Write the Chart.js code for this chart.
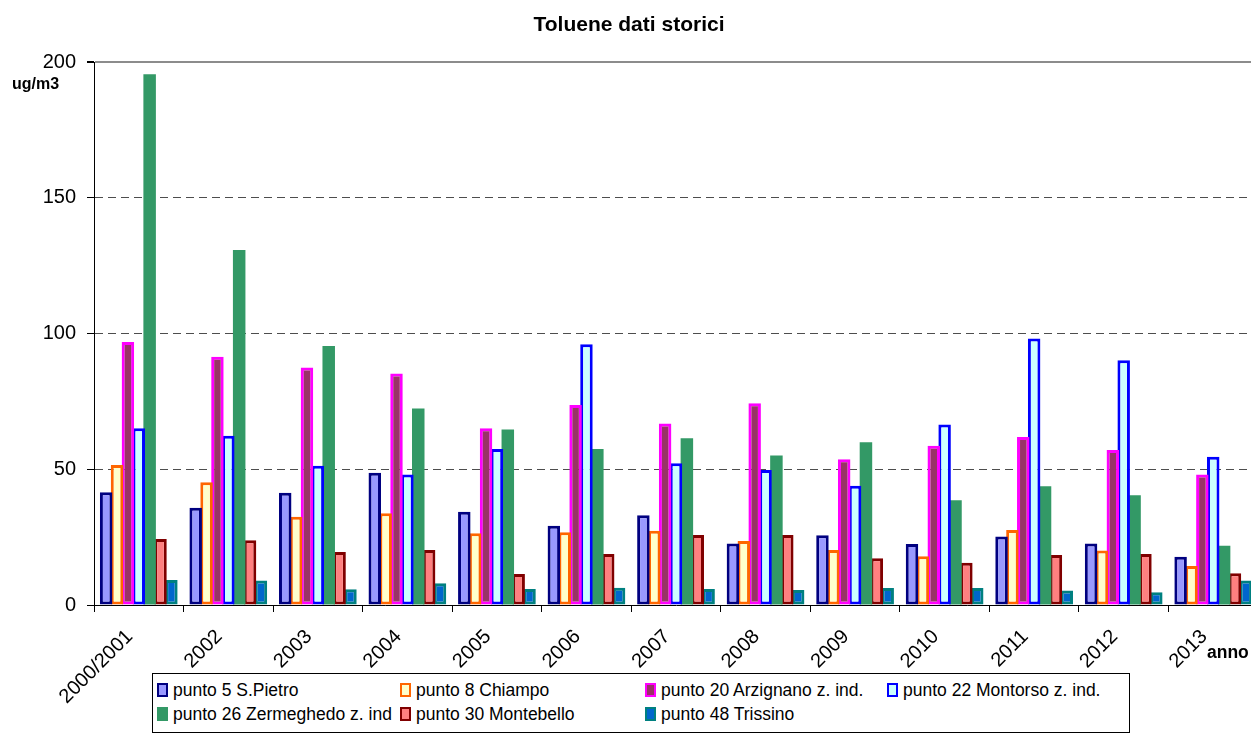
<!DOCTYPE html>
<html>
<head>
<meta charset="utf-8">
<script src="https://cdn.jsdelivr.net/npm/chart.js@4.4.1/dist/chart.umd.min.js"></script>
<style>
    html, body { margin: 0; padding: 0; overflow: hidden; background: #fff; }
    body { width: 1251px; height: 754px; position: relative; font-family: "Liberation Sans", Arial, sans-serif; }
    #wrap { position: absolute; left: 0; top: 0; width: 1258px; height: 754px; }
    .lbl { position: absolute; font-weight: bold; color: #000; }
    #legend { position: absolute; left: 152px; top: 673px; width: 976px; height: 58px; border: 1px solid #000; background: #fff; }
    .item { position: absolute; font-size: 17.5px; line-height: 20px; white-space: nowrap; }
    .item i { position: absolute; left: -16px; top: 3px; width: 7px; height: 10px; box-sizing: content-box; }
</style>
</head>
<body>
<div id="wrap"><canvas id="myChart" width="1258" height="754"></canvas></div>
<div class="lbl" style="left:12px; top:75px; font-size:16px;">ug/m3</div>
<div class="lbl" style="left:1207px; top:642px; font-size:17.5px;">anno</div>
<div id="legend"></div>
<script>
const years = ["2000/2001", "2002", "2003", "2004", "2005", "2006", "2007", "2008", "2009", "2010", "2011", "2012", "2013"];
const yTicks = [0, 50, 100, 150, 200];

const sPietro = [41.5, 35.8, 41.4, 48.7, 34.4, 29.2, 33.1, 22.7, 25.7, 22.5, 25.2, 22.7, 17.8];
const chiampo = [51.6, 45.2, 32.5, 33.8, 26.4, 26.8, 27.4, 23.6, 20.3, 18.0, 27.6, 20.1, 14.4];
const arzignano = [96.9, 91.5, 87.5, 85.3, 65.1, 73.7, 66.9, 74.3, 53.7, 58.7, 61.9, 57.1, 48.1];
const montorso = [65.1, 62.4, 51.3, 48.1, 57.5, 96.1, 52.2, 49.7, 43.9, 66.5, 98.2, 90.2, 54.6];
const zermeghedo = [195.6, 130.8, 95.4, 72.4, 64.7, 57.5, 61.4, 55.1, 60.0, 38.6, 43.8, 40.4, 21.8];
const montebello = [24.3, 23.9, 19.5, 20.3, 11.4, 18.8, 25.8, 25.8, 17.2, 15.6, 18.4, 18.8, 11.7];
const trissino = [9.2, 9.0, 5.8, 8.0, 5.9, 6.4, 5.9, 5.5, 6.3, 6.3, 5.3, 4.7, 9.0];

const series = [
    {label: "punto 5 S.Pietro", data: sPietro, fill: "#9999FF", line: "#000080", w: 3},
    {label: "punto 8 Chiampo", data: chiampo, fill: "#FFFFCC", line: "#FF6600", w: 3},
    {label: "punto 20 Arzignano z. ind.", data: arzignano, fill: "#993366", line: "#FF00FF", w: 3},
    {label: "punto 22 Montorso z. ind.", data: montorso, fill: "#CCFFFF", line: "#0000FF", w: 3},
    {label: "punto 26 Zermeghedo z. ind", data: zermeghedo, fill: "#339966", line: "#339966", w: 0},
    {label: "punto 30 Montebello", data: montebello, fill: "#FF8080", line: "#800000", w: 3},
    {label: "punto 48 Trissino", data: trissino, fill: "#0066CC", line: "#008080", w: 3}
];

const font = "'Liberation Sans', Arial, sans-serif";

let ctx = document.getElementById("myChart").getContext('2d');
let myChart = new Chart(ctx, {
    type: 'bar',
    data: {
        labels: years,
        datasets: series.map(s => ({
            label: s.label,
            data: s.data,
            backgroundColor: s.fill,
            borderColor: s.line,
            borderWidth: s.w,
            borderSkipped: false,
            categoryPercentage: 0.85,
            barPercentage: 1.15   // i bordi di Excel si sovrappongono
        }))
    },
    options: {
        responsive: false,
        animation: false,
        layout: {padding: 0},
        plugins: {
            legend: {display: false},
            tooltip: {enabled: false},
            title: {
                display: true,
                text: "Toluene dati storici",
                color: "#000",
                font: {family: font, size: 21, weight: 'bold'},
                padding: {top: 13, bottom: 24}
            }
        },
        scales: {
            x: {
                afterFit: scale => { scale.height = 149; },
                grid: {
                    offset: true,
                    drawOnChartArea: false,
                    drawTicks: true,
                    tickLength: 7,
                    tickColor: "#000"
                },
                border: {display: true, color: "#000", width: 1},
                ticks: {
                    color: "#000",
                    font: {family: font, size: 20},
                    minRotation: 45,
                    maxRotation: 45,
                    autoSkip: false,
                    padding: 13,
                    labelOffset: -9
                }
            },
            y: {
                min: 0,
                max: 200,
                afterFit: scale => { scale.width = 94; },
                afterBuildTicks: scale => { scale.ticks = yTicks.map(v => ({value: v})); },
                grid: {
                    color: c => c.tick.value === 0 ? "rgba(0,0,0,0)" : (c.tick.value === 200 ? "#8c8c8c" : "#4d4d4d"),
                    lineWidth: c => c.tick.value === 200 ? 2 : 1,
                    drawTicks: true,
                    tickLength: 7,
                    tickColor: "#000"
                },
                border: {
                    display: true,
                    color: "#000",
                    width: 1,
                    dash: c => (c.tick && c.tick.value === 200) ? [] : [8, 5]
                },
                ticks: {
                    color: "#000",
                    font: {family: font, size: 20},
                    padding: 11
                }
            }
        }
    }
});

// legenda a 4 colonne come nell'originale
const legend = document.getElementById("legend");
const cols = [20, 263, 508, 750];
series.forEach((s, i) => {
    const el = document.createElement("div");
    el.className = "item";
    el.style.left = cols[i % 4] + "px";
    el.style.top = (6 + Math.floor(i / 4) * 24) + "px";
    const box = document.createElement("i");
    box.style.background = s.fill;
    box.style.border = (s.w ? 2 : 0) + "px solid " + s.line;
    if (!s.w) { box.style.width = "11px"; box.style.height = "14px"; }
    el.appendChild(box);
    el.appendChild(document.createTextNode(s.label));
    legend.appendChild(el);
});
</script>
</body>
</html>
